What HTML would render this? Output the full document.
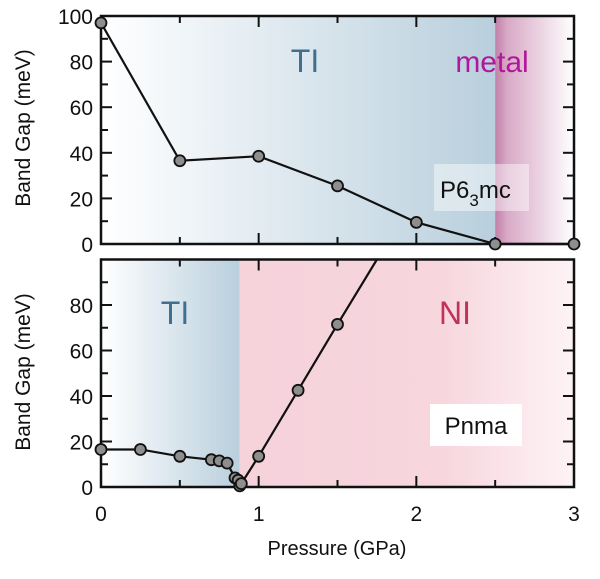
<!DOCTYPE html>
<html><head><meta charset="utf-8"><style>
body{margin:0;background:#fff}
svg text{font-family:"Liberation Sans",sans-serif}
</style></head><body>
<svg id="c" width="600" height="574" viewBox="0 0 600 574" xmlns="http://www.w3.org/2000/svg">
<defs>
<linearGradient id="gTop" x1="0" x2="1"><stop offset="0" stop-color="#ffffff"/><stop offset="1" stop-color="#b9cfdd"/></linearGradient>
<linearGradient id="gMetal" x1="0" x2="1"><stop offset="0" stop-color="#c17fa8"/><stop offset="0.15" stop-color="#d8a9c6"/><stop offset="1" stop-color="#ffffff"/></linearGradient>
<linearGradient id="gBotTI" x1="0" x2="1"><stop offset="0" stop-color="#ffffff"/><stop offset="1" stop-color="#b9cfdd"/></linearGradient>
<linearGradient id="gNI" x1="0" x2="1"><stop offset="0" stop-color="#f6d2db"/><stop offset="0.6" stop-color="#f7d6de"/><stop offset="1" stop-color="#fdf3f5"/></linearGradient>
</defs>
<g id="layer"></g>
</svg>
<script>
const topX=[0,0.5,1,1.5,2,2.5,3];
const topY=[97,36.5,38.5,25.5,9.5,0,0];
const botX=[0,0.25,0.5,0.7,0.75,0.8,0.85,0.87,0.88,0.89,1,1.25,1.5];
const botY=[16.5,16.5,13.5,12,11.5,10.5,4,3,0.5,1.5,13.5,42.5,71.5];
const botLineEnd=[1.75,100];
const topTicks=[0,20,40,60,80,100];
const botTicks=[0,20,40,60,80];
const xTicks=[0,1,2,3];
const topTIEnd=2.5, botTIEnd=0.88;
const NS='http://www.w3.org/2000/svg';
const g=document.getElementById('layer');
const X0=101,X1=574;
const xs=v=>X0+(X1-X0)*v/3;
const yTop=v=>244-228*v/100;
const yBot=v=>487-227.5*v/100;
function el(t,a,txt){const e=document.createElementNS(NS,t);for(const k in a)e.setAttribute(k,a[k]);if(txt!==undefined)e.textContent=txt;g.appendChild(e);return e;}
let e;
e=el('rect',{x:X0,y:yTop(100),width:xs(topTIEnd)-X0,height:yTop(0)-yTop(100),fill:'url(#gTop)'});


e=el('rect',{x:xs(topTIEnd),y:yTop(100),width:X1-xs(topTIEnd),height:yTop(0)-yTop(100),fill:'url(#gMetal)'});


e=el('rect',{x:X0,y:yBot(100),width:xs(botTIEnd)-X0,height:yBot(0)-yBot(100),fill:'url(#gBotTI)'});


e=el('rect',{x:xs(botTIEnd),y:yBot(100),width:X1-xs(botTIEnd),height:yBot(0)-yBot(100),fill:'url(#gNI)'});


e=el('text',{x:305,y:72,'font-size':32,fill:'#3f6f8f','text-anchor':'middle'},'TI');


e=el('text',{x:492,y:72,'font-size':30,fill:'#b0179a','text-anchor':'middle'},'metal');


e=el('text',{x:175,y:324,'font-size':32,fill:'#3f6f8f','text-anchor':'middle'},'TI');


e=el('text',{x:455,y:324,'font-size':32,fill:'#c0325a','text-anchor':'middle'},'NI');


e=el('rect',{x:434,y:164,width:95,height:47,fill:'#ffffff','fill-opacity':0.45});


e=el('text',{x:440,y:198,'font-size':24,fill:'#111'});


e.innerHTML='P6<tspan font-size="17" dy="8">3</tspan><tspan dy="-8">mc</tspan>';
e=el('rect',{x:430,y:404,width:92,height:42,fill:'#ffffff'});


e=el('text',{x:476,y:434,'font-size':24,fill:'#111','text-anchor':'middle'},'Pnma');


function frame(ys,ticks,name){
  const f=el('rect',{x:X0,y:ys(100),width:X1-X0,height:ys(0)-ys(100),fill:'none',stroke:'#111','stroke-width':2.5});
  
  
  for(let v=0;v<=100;v+=10){const major=v%20===0;const L=major?11:7;
    el('line',{x1:X0,x2:X0+L,y1:ys(v),y2:ys(v),stroke:'#111','stroke-width':2});
    el('line',{x1:X1,x2:X1-L,y1:ys(v),y2:ys(v),stroke:'#111','stroke-width':2});}
  for(let v=0;v<=3;v+=0.5){const L=v%1===0?11:7;
    el('line',{x1:xs(v),x2:xs(v),y1:ys(0),y2:ys(0)-L,stroke:'#111','stroke-width':2});
    el('line',{x1:xs(v),x2:xs(v),y1:ys(100),y2:ys(100)+L,stroke:'#111','stroke-width':2});}
  ticks.forEach(t=>{const tx=el('text',{x:X0-8,y:ys(t)+8,'font-size':21,fill:'#111','text-anchor':'end'},String(t));
    
    });
}
frame(yTop,topTicks,'top');
frame(yBot,botTicks,'bottom');
xTicks.forEach(t=>{const tx=el('text',{x:xs(t),y:521,'font-size':21,fill:'#111','text-anchor':'middle'},String(t));
  
  });
e=el('text',{x:337,y:555,'font-size':20,fill:'#111','text-anchor':'middle'},'Pressure (GPa)');


e=el('text',{x:0,y:0,'font-size':21,fill:'#111','text-anchor':'middle',transform:'translate(30,128) rotate(-90)'},'Band Gap (meV)');


e=el('text',{x:0,y:0,'font-size':21,fill:'#111','text-anchor':'middle',transform:'translate(30,372) rotate(-90)'},'Band Gap (meV)');


let pts=topX.map((v,i)=>xs(v)+','+yTop(topY[i])).join(' ');
e=el('polyline',{points:pts,fill:'none',stroke:'#111','stroke-width':2.2});


topX.forEach((v,i)=>{const c=el('circle',{cx:xs(v),cy:yTop(topY[i]),r:5.5,fill:'#8e8e8e',stroke:'#111','stroke-width':1.8});
  
  });
const bl=botX.map((v,i)=>[v,botY[i]]).concat([botLineEnd]);
pts=bl.map(p=>xs(p[0])+','+yBot(p[1])).join(' ');
e=el('polyline',{points:pts,fill:'none',stroke:'#111','stroke-width':2.2});


botX.forEach((v,i)=>{const c=el('circle',{cx:xs(v),cy:yBot(botY[i]),r:5.5,fill:'#8e8e8e',stroke:'#111','stroke-width':1.8});
  
  });
</script>
</body></html>
